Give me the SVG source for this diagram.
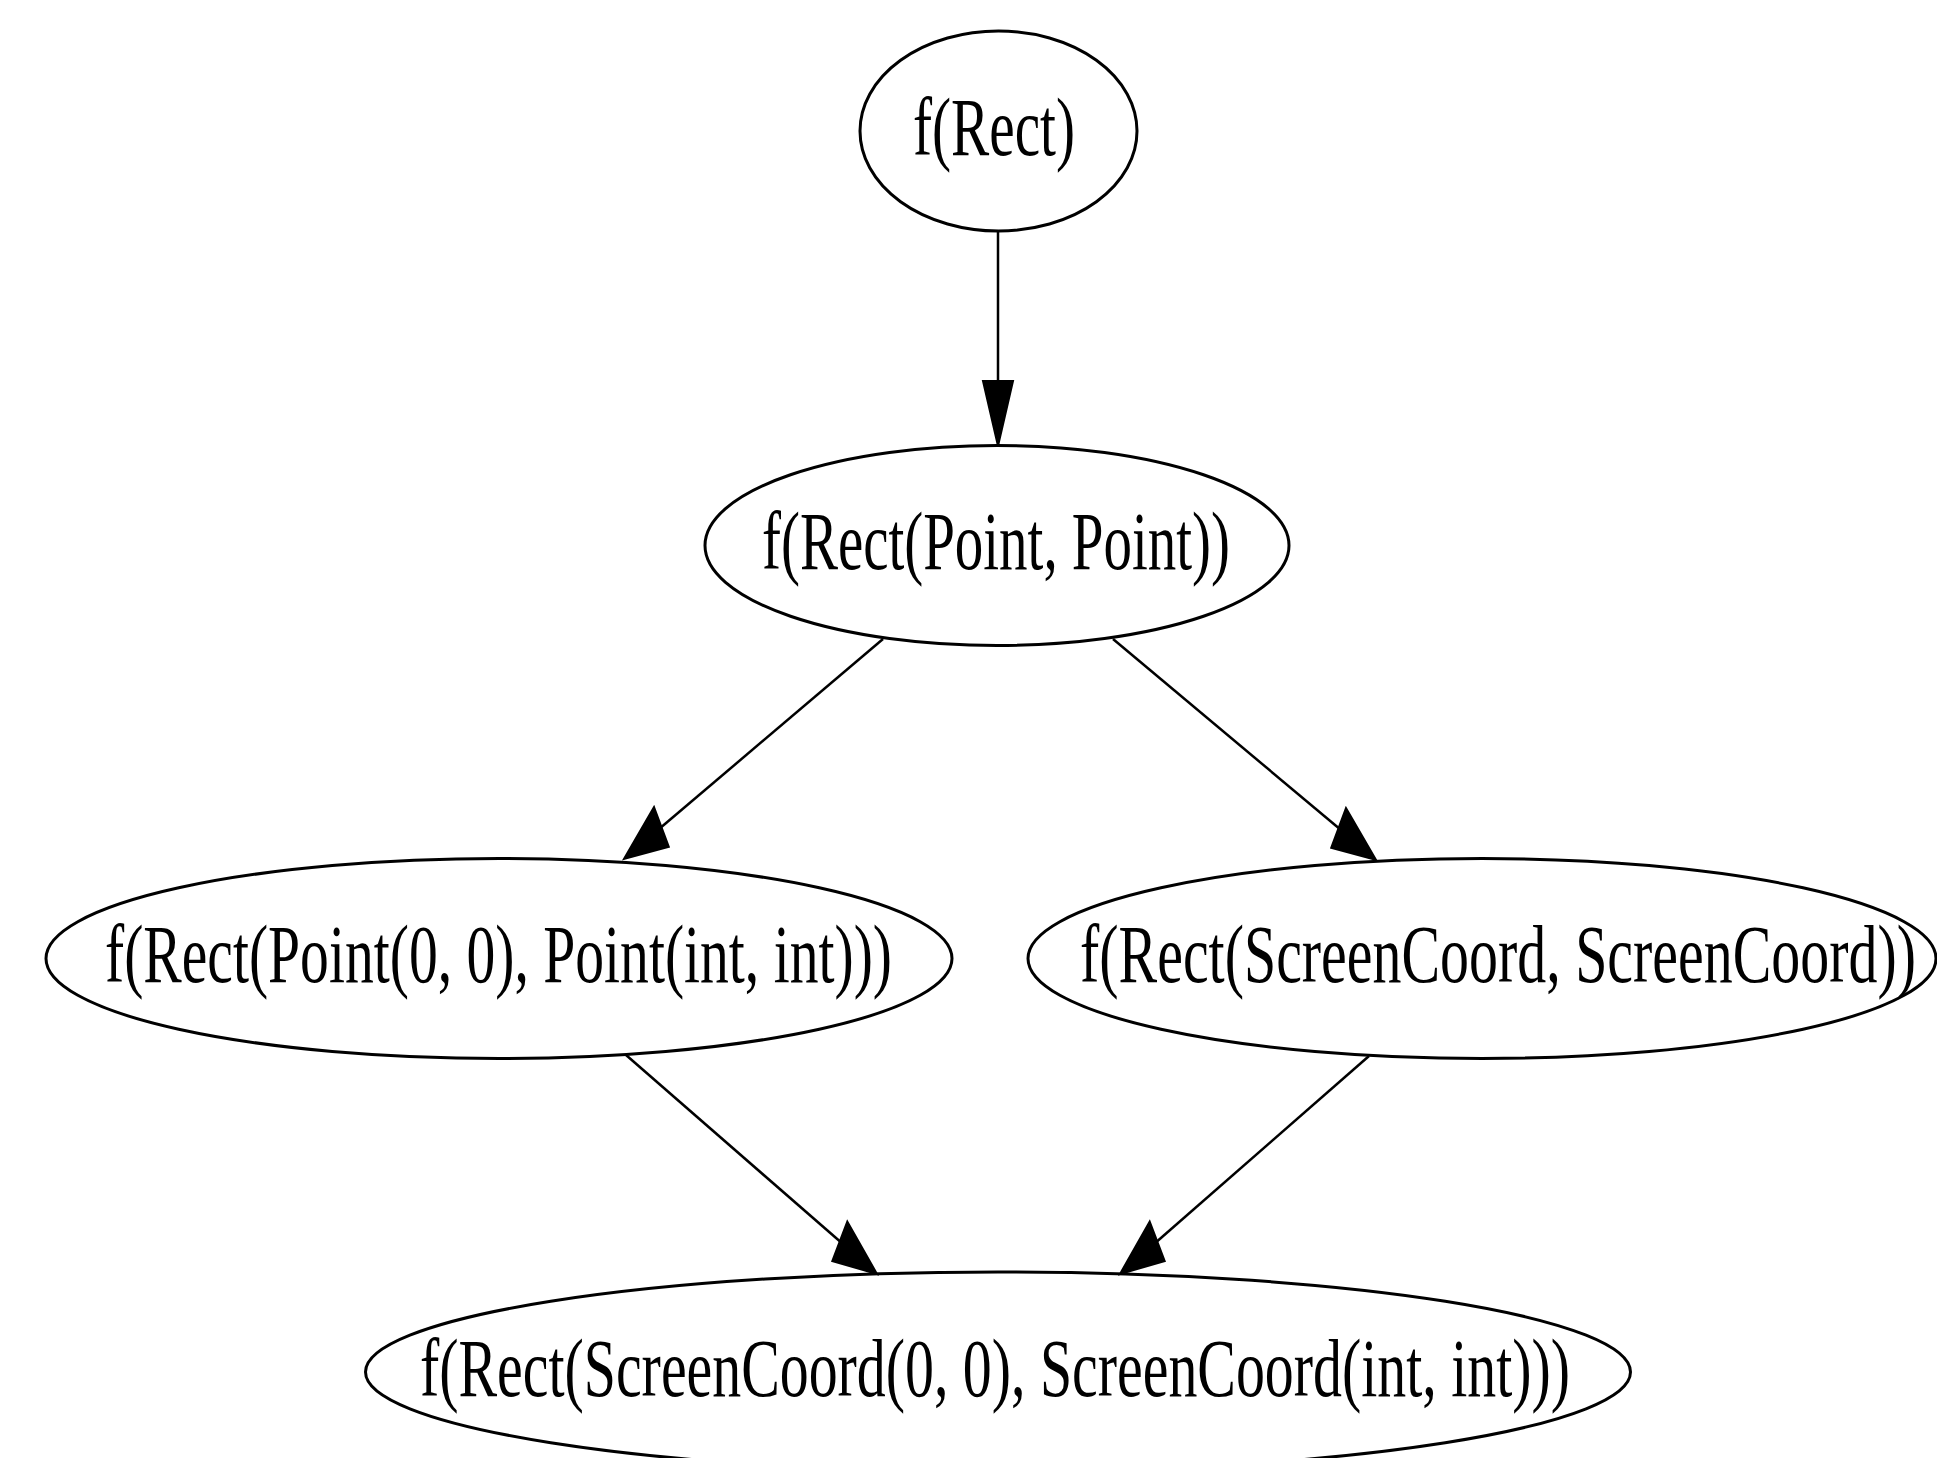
<svg xmlns="http://www.w3.org/2000/svg" width="1937" height="1458" viewBox="0 0 1937 1458">
<style>
.node ellipse{fill:none;stroke:#000;stroke-width:3}
.node text{font-family:"Liberation Serif","Times New Roman",serif;font-size:57.6px;fill:#000}
.edge line{stroke:#000;stroke-width:2.5}
.edge polygon{fill:#000;stroke:#000;stroke-width:2}
</style>
<rect width="1937" height="1458" fill="#fff"/>
<g id="edges" class="edge">
<line x1="998" y1="231" x2="998" y2="381"/>
<polygon points="983,381 1013,381 998,446"/>
<line x1="883" y1="639" x2="661.4" y2="827"/>
<polygon points="668.8,846.8 654,807.2 624,859"/>
<line x1="1113" y1="639" x2="1338.6" y2="828"/>
<polygon points="1331.2,847.8 1346,808.2 1376,860"/>
<line x1="626" y1="1055" x2="839.8" y2="1241.3"/>
<polygon points="847.3,1221.6 832.3,1261 877,1274"/>
<line x1="1369" y1="1056" x2="1157.2" y2="1241.3"/>
<polygon points="1149.7,1221.6 1164.7,1261 1120,1274"/>
</g>
<g id="node1" class="node">
<ellipse cx="998.5" cy="131" rx="138.5" ry="100"/>
<text transform="translate(913,154.5) scale(1,1.44)" textLength="162" lengthAdjust="spacingAndGlyphs">f(Rect)</text>
</g>
<g id="node2" class="node">
<ellipse cx="997" cy="545.5" rx="292" ry="100"/>
<text transform="translate(762,569) scale(1,1.44)" textLength="468" lengthAdjust="spacingAndGlyphs">f(Rect(Point, Point))</text>
</g>
<g id="node3" class="node">
<ellipse cx="499" cy="958.5" rx="453" ry="100"/>
<text transform="translate(105,982) scale(1,1.44)" textLength="787" lengthAdjust="spacingAndGlyphs">f(Rect(Point(0, 0), Point(int, int)))</text>
</g>
<g id="node4" class="node">
<ellipse cx="1482" cy="958.5" rx="454" ry="100"/>
<text transform="translate(1080,982) scale(1,1.44)" textLength="836" lengthAdjust="spacingAndGlyphs">f(Rect(ScreenCoord, ScreenCoord))</text>
</g>
<g id="node5" class="node">
<ellipse cx="998" cy="1372" rx="632.5" ry="100"/>
<text transform="translate(420,1395.5) scale(1,1.44)" textLength="1150" lengthAdjust="spacingAndGlyphs">f(Rect(ScreenCoord(0, 0), ScreenCoord(int, int)))</text>
</g>
</svg>
